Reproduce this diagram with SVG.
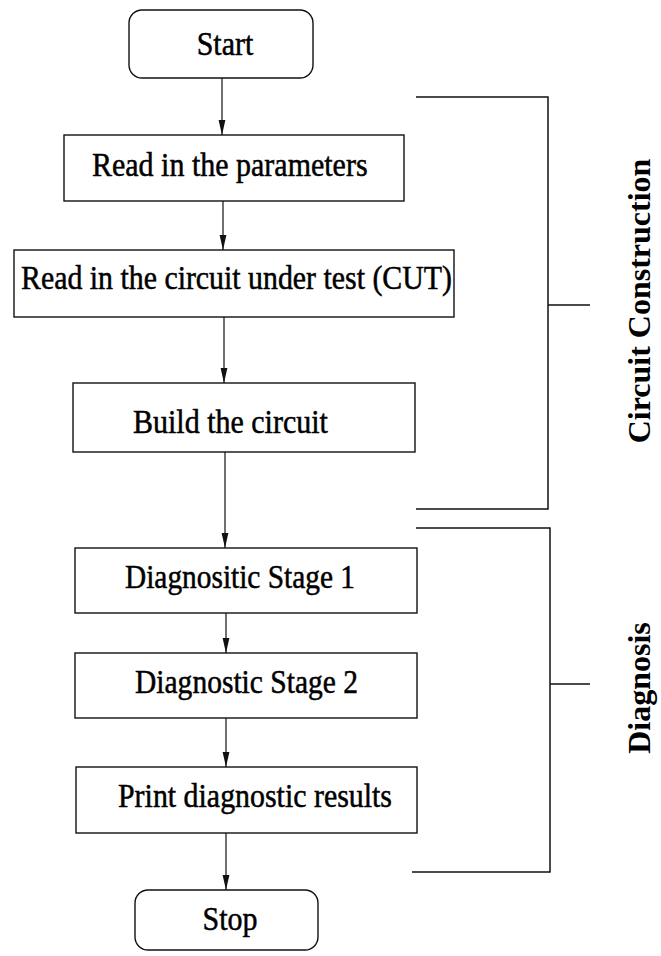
<svg xmlns="http://www.w3.org/2000/svg" width="661" height="956" viewBox="0 0 661 956">
  <style>
    .box { fill: #ffffff; stroke: #111111; stroke-width: 1.4; }
    .lbl { font-family: "Liberation Serif", "Times New Roman", serif; font-size: 30px; fill: #000000; stroke: #000000; stroke-width: 0.45; }
    .side { font-family: "Liberation Serif", "Times New Roman", serif; font-size: 32px; font-weight: bold; fill: #000000; }
    .wire { fill: none; stroke: #111111; stroke-width: 1.2; }
    .brk { fill: none; stroke: #111111; stroke-width: 1.5; }
  </style>
  <defs>
    <marker id="head" markerUnits="userSpaceOnUse" markerWidth="16" markerHeight="8" refX="15" refY="4" orient="auto" viewBox="0 0 16 8">
      <path d="M0,0.6 L15,4 L0,7.4 Z" fill="#111111"/>
    </marker>
  </defs>

  <rect width="661" height="956" fill="#ffffff"/>

  <!-- flow connectors -->
  <g id="connectors">
    <line class="wire" x1="222" y1="78" x2="222" y2="135" marker-end="url(#head)"/>
    <line class="wire" x1="223" y1="201" x2="223" y2="250" marker-end="url(#head)"/>
    <line class="wire" x1="224" y1="317" x2="224" y2="383" marker-end="url(#head)"/>
    <line class="wire" x1="225" y1="452" x2="225" y2="548" marker-end="url(#head)"/>
    <line class="wire" x1="226" y1="613" x2="226" y2="653" marker-end="url(#head)"/>
    <line class="wire" x1="226" y1="718" x2="226" y2="767" marker-end="url(#head)"/>
    <line class="wire" x1="226" y1="833" x2="226" y2="890" marker-end="url(#head)"/>
  </g>

  <!-- labels are stretched slightly taller than the stock face -->
  <g id="start">
    <rect class="box" x="129" y="10" width="184" height="68" rx="13"/>
    <text class="lbl" transform="translate(225 55) scale(1 1.15)" text-anchor="middle">Start</text>
  </g>

  <g id="read-params">
    <rect class="box" x="64" y="135" width="340" height="66"/>
    <text class="lbl" transform="translate(92 176) scale(1 1.15)">Read in the parameters</text>
  </g>

  <g id="read-cut">
    <rect class="box" x="14" y="250" width="440" height="67"/>
    <text class="lbl" transform="translate(21 289) scale(1 1.15)" textLength="431" lengthAdjust="spacingAndGlyphs">Read in the circuit under test (CUT)</text>
  </g>

  <g id="build">
    <rect class="box" x="73" y="383" width="342" height="69"/>
    <text class="lbl" transform="translate(133 433) scale(1 1.15)">Build the circuit</text>
  </g>

  <g id="stage1">
    <rect class="box" x="75" y="548" width="342" height="65"/>
    <text class="lbl" transform="translate(125 588) scale(1 1.15)" textLength="230" lengthAdjust="spacingAndGlyphs">Diagnositic Stage 1</text>
  </g>

  <g id="stage2">
    <rect class="box" x="75" y="653" width="342" height="65"/>
    <text class="lbl" transform="translate(135 693) scale(1 1.15)" textLength="223" lengthAdjust="spacingAndGlyphs">Diagnostic Stage 2</text>
  </g>

  <g id="print">
    <rect class="box" x="76" y="767" width="341" height="66"/>
    <text class="lbl" transform="translate(118 807) scale(1 1.15)" textLength="274" lengthAdjust="spacingAndGlyphs">Print diagnostic results</text>
  </g>

  <g id="stop">
    <rect class="box" x="135" y="890" width="183" height="60" rx="13"/>
    <text class="lbl" transform="translate(230 930) scale(1 1.15)" text-anchor="middle">Stop</text>
  </g>

  <!-- phase brackets -->
  <g id="circuit-construction">
    <path class="brk" d="M416,97 H548 V509 H416 M548,305 H590"/>
    <text class="side" transform="translate(650 301) rotate(-90)" text-anchor="middle">Circuit Construction</text>
  </g>

  <g id="diagnosis">
    <path class="brk" d="M416,528 H550 V872 H412 M550,684 H590"/>
    <text class="side" transform="translate(650 688) rotate(-90)" text-anchor="middle">Diagnosis</text>
  </g>
</svg>
